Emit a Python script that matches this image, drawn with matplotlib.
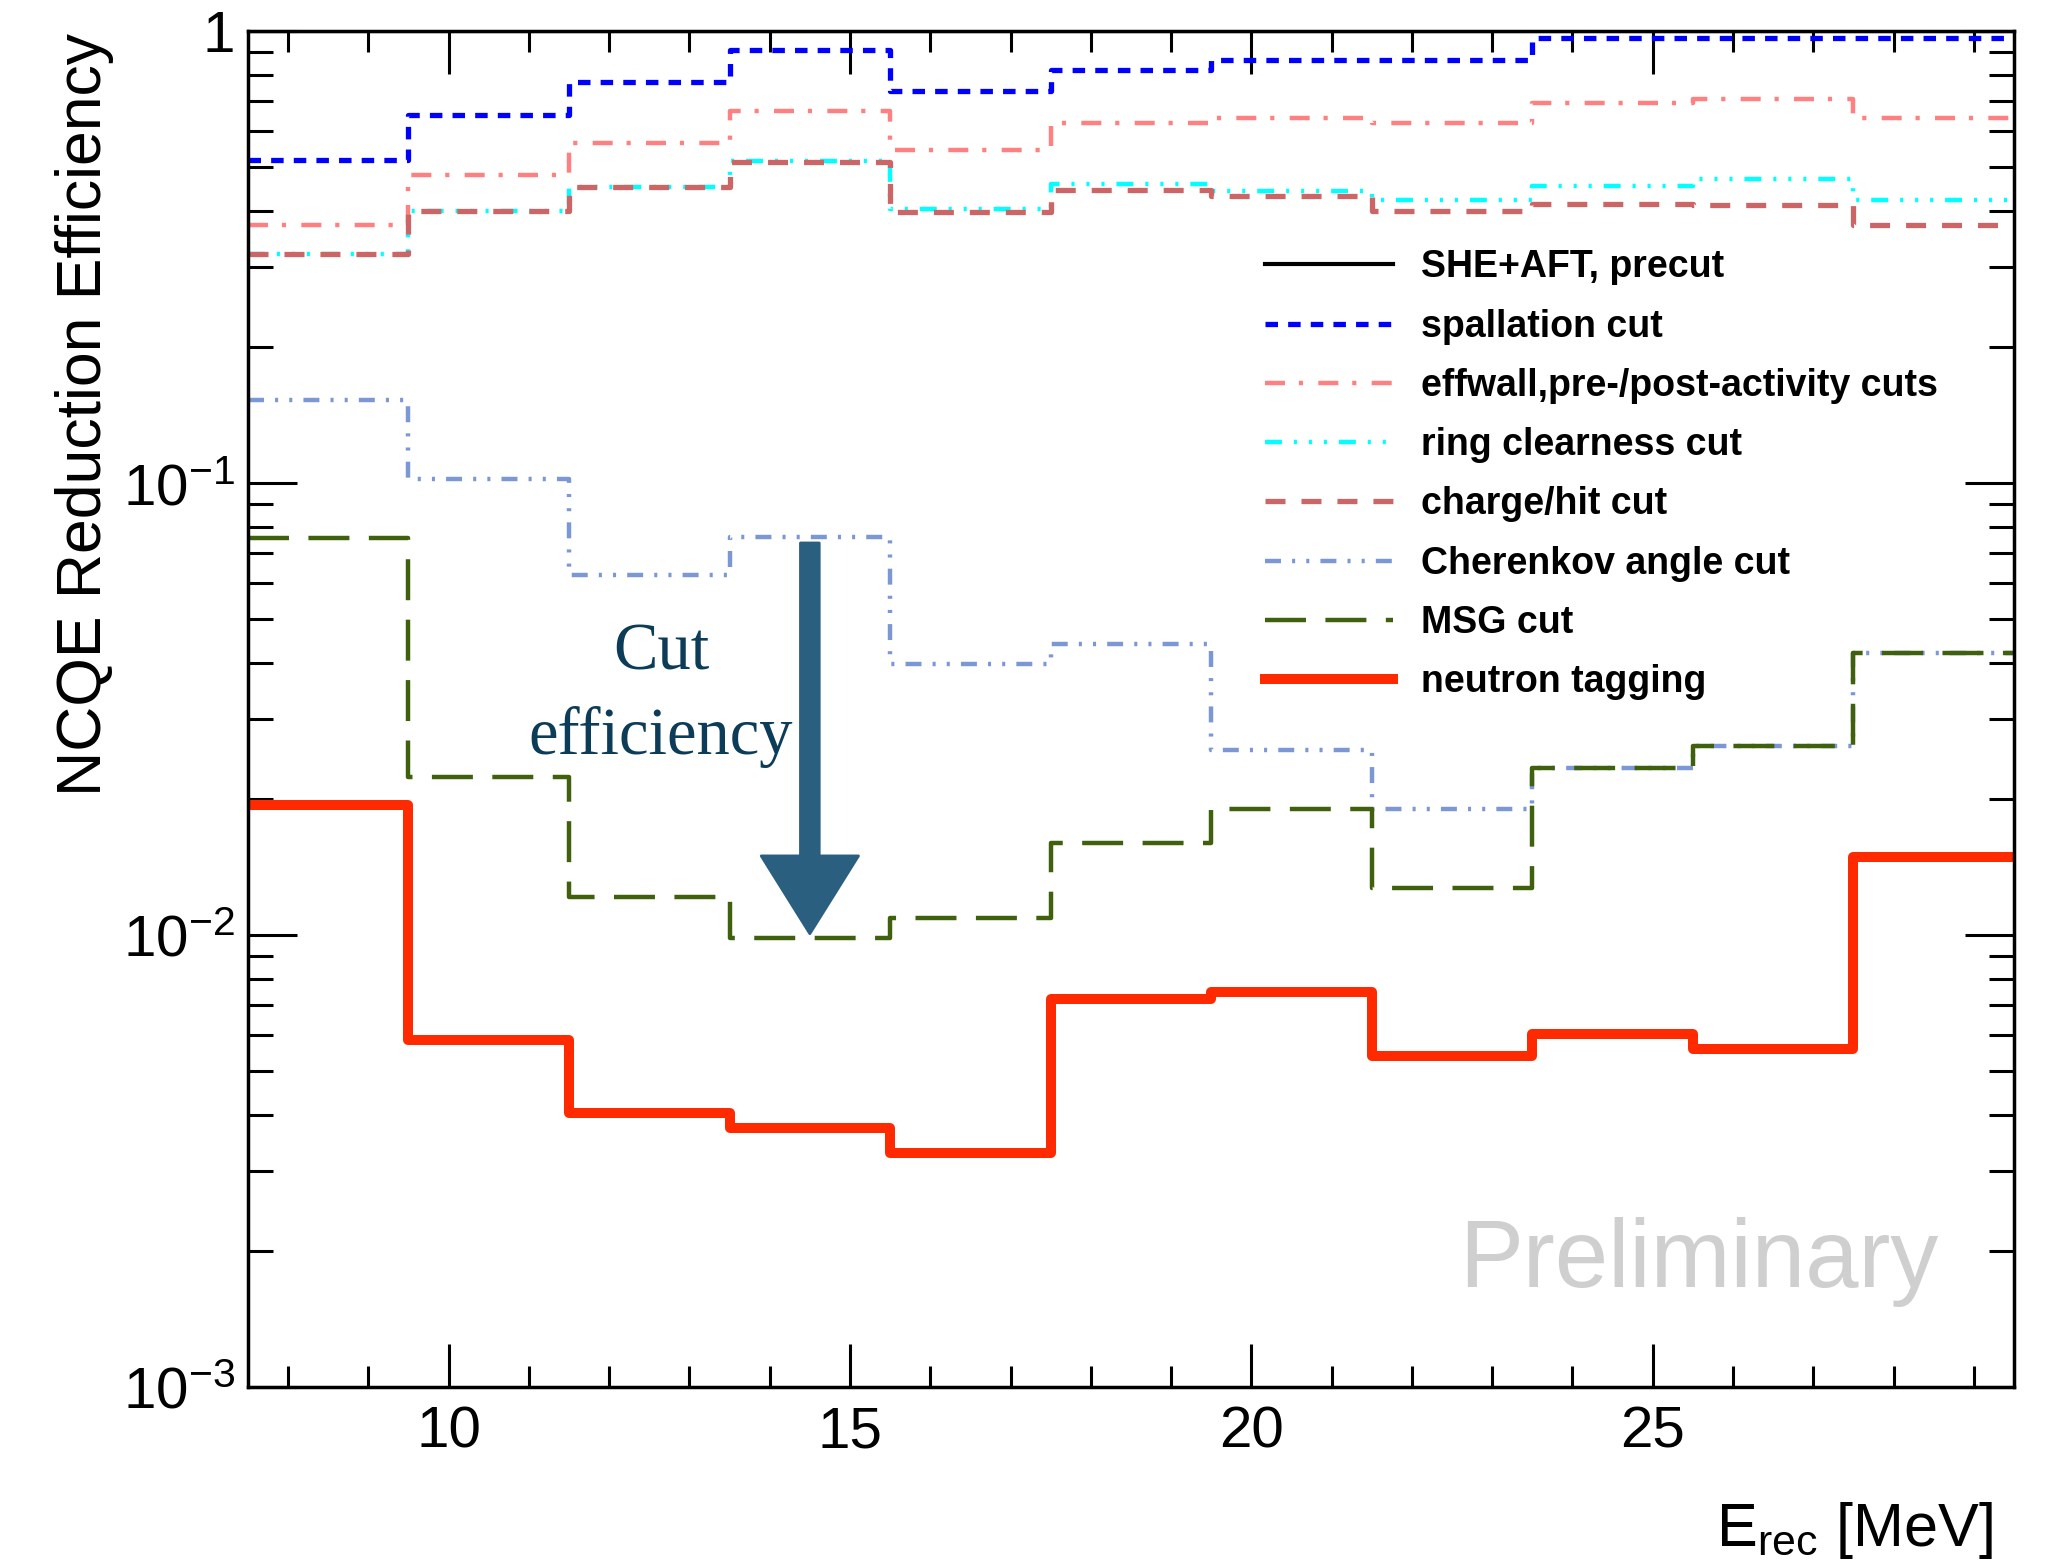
#-------------------------------------------------------------------------
# Imports
import matplotlib
matplotlib.use("Agg")
import matplotlib.pyplot as plt
import matplotlib.ticker as mticker
import numpy             as np

#-------------------------------------------------------------------------
# Data

bin_edges = [7.5, 9.5, 11.5, 13.5, 15.5, 17.5, 19.5, 21.5, 23.5, 25.5, 27.5, 29.5]

eff_precut     = [1.0, 1.0, 1.0, 1.0, 1.0, 1.0, 1.0, 1.0, 1.0, 1.0, 1.0]
eff_spallation = [0.518, 0.652, 0.772, 0.908, 0.737, 0.820, 0.863, 0.863, 0.963, 0.963, 0.963]
eff_effwall    = [0.372, 0.480, 0.566, 0.665, 0.547, 0.625, 0.641, 0.627, 0.692, 0.706, 0.641]
eff_ring       = [0.322, 0.400, 0.453, 0.516, 0.405, 0.460, 0.443, 0.423, 0.454, 0.470, 0.423]
eff_chargehit  = [0.321, 0.400, 0.451, 0.514, 0.397, 0.446, 0.432, 0.400, 0.414, 0.412, 0.372]
eff_cherenkov  = [0.1526, 0.1023, 0.0625, 0.0760, 0.0398, 0.0440, 0.02566, 0.0190, 0.02338, 0.02624, 0.0421]
eff_msg        = [0.0755, 0.02233, 0.01213, 0.00984, 0.01089, 0.01595, 0.0190, 0.01273, 0.02338, 0.02624, 0.0421]
eff_ntag       = [0.01936, 0.00586, 0.00404, 0.003735, 0.00330, 0.00722, 0.00747, 0.00541, 0.00603, 0.00559, 0.01486]

labels = ["SHE+AFT, precut",
          "spallation cut",
          "effwall,pre-/post-activity cuts",
          "ring clearness cut",
          "charge/hit cut",
          "Cherenkov angle cut",
          "MSG cut",
          "neutron tagging"]

ytick_vals   = [1e-3, 1e-2, 1e-1, 1]
ytick_labels = ["10$^{-3}$", "10$^{-2}$", "10$^{-1}$", "1"]

arrow_x     = 14.5
arrow_y_top = 0.0737
arrow_y_tip = 0.01007

#-------------------------------------------------------------------------
# Style

plt.rcParams['font.family']      = ['Liberation Sans', 'DejaVu Sans']
plt.rcParams['mathtext.fontset'] = 'custom'
plt.rcParams['mathtext.rm']      = 'Liberation Sans'
plt.rcParams['mathtext.it']      = 'Liberation Sans:italic'
plt.rcParams['mathtext.bf']      = 'Liberation Sans:bold'
plt.rcParams['lines.scale_dashes'] = False

series = [
    (eff_precut,     dict(color="black",   lw=3.0, ls="-")),
    (eff_spallation, dict(color="#0000ff", lw=3.8, ls=(0, (9, 7.3)))),
    (eff_effwall,    dict(color="#ff8080", lw=3.2, ls=(0, (14.4, 10, 3, 11)))),
    (eff_ring,       dict(color="#00ffff", lw=3.2, ls=(0, (12.2, 8.6, 2.2, 8.6, 2.2, 8.6, 2.2, 8.6)))),
    (eff_chargehit,  dict(color="#cc6666", lw=3.8, ls=(0, (14.4, 11.5)))),
    (eff_cherenkov,  dict(color="#7b98d5", lw=3.2, ls=(0, (11.5, 8, 2.2, 8, 2.2, 8)))),
    (eff_msg,        dict(color="#3f600c", lw=3.2, ls=(0, (29.5, 14)))),
    (eff_ntag,       dict(color="#ff2a00", lw=7.2, ls="-")),
]

#-------------------------------------------------------------------------
# Plot

fig = plt.figure(figsize=(20.49, 15.62), dpi=100)
ax  = fig.add_axes([0.1210, 0.1120, 0.8619, 0.8681])

edges = np.array(bin_edges)
for (vals, style), lab in zip(series, labels):
    yy = np.append(vals, vals[-1])
    ax.step(edges, yy, where="post", label=lab, **style)

ax.set_yscale("log")
ax.set_xlim(7.5, 29.5)
ax.set_ylim(1e-3, 1)

ax.xaxis.set_major_locator(mticker.MultipleLocator(5))
ax.xaxis.set_minor_locator(mticker.MultipleLocator(1))
ax.yaxis.set_major_locator(mticker.FixedLocator(ytick_vals))
ax.yaxis.set_major_formatter(mticker.FixedFormatter(ytick_labels))
ax.yaxis.set_minor_locator(mticker.LogLocator(base=10, subs=np.arange(2, 10)))
ax.yaxis.set_minor_formatter(mticker.NullFormatter())

ax.tick_params(axis="both", which="both", direction="in", top=True, right=True, width=2.2)
ax.tick_params(axis="x", which="major", length=31, labelsize=42, pad=13)
ax.tick_params(axis="x", which="minor", length=15)
ax.tick_params(axis="y", which="major", length=35, labelsize=42, pad=9)
ax.tick_params(axis="y", which="minor", length=18)
for sp in ax.spines.values():
    sp.set_linewidth(2.5)

ax.set_ylabel("NCQE Reduction Efficiency", fontsize=45)
ax.yaxis.set_label_coords(-0.076, 0.717)

xl = ax.set_xlabel("E$_{\\mathrm{rec}}$ [MeV]", fontsize=44)
ax.xaxis.set_label_coords(0.988, -0.117)
xl.set_ha("right")
xl.set_va("baseline")

# Legend
leg = ax.legend(loc="upper left", bbox_to_anchor=(0.6174, 0.8403), bbox_transform=fig.transFigure,
                frameon=False, borderpad=0, borderaxespad=0, handlelength=3.4, handletextpad=0.75,
                labelspacing=0.62, prop=dict(family="Liberation Sans", weight="bold", size=27))

# Preliminary watermark
ax.text(0.686, 0.0737, "Preliminary", transform=ax.transAxes, fontsize=69,
        color="#cfcfcf", ha="left", va="baseline")

# Cut efficiency annotation
tr = ax.get_xaxis_transform()
ax.text(12.645, 0.5295, "Cut",        transform=tr, ha="center", va="baseline",
        fontsize=48, family="Liberation Serif", color="#0c3c58")
ax.text(12.645, 0.4672, "efficiency", transform=tr, ha="center", va="baseline",
        fontsize=48, family="Liberation Serif", color="#0c3c58")

ax.annotate("", xy=(arrow_x, arrow_y_tip), xytext=(arrow_x, arrow_y_top),
            arrowprops=dict(arrowstyle="simple,head_length=1.12,head_width=1.4,tail_width=0.27",
                            mutation_scale=50, color="#2a5f80", shrinkA=0, shrinkB=0,
                            joinstyle="round", lw=2))

#-------------------------------------------------------------------------
# Saving Plot
fig.savefig("out.png", dpi=100)
